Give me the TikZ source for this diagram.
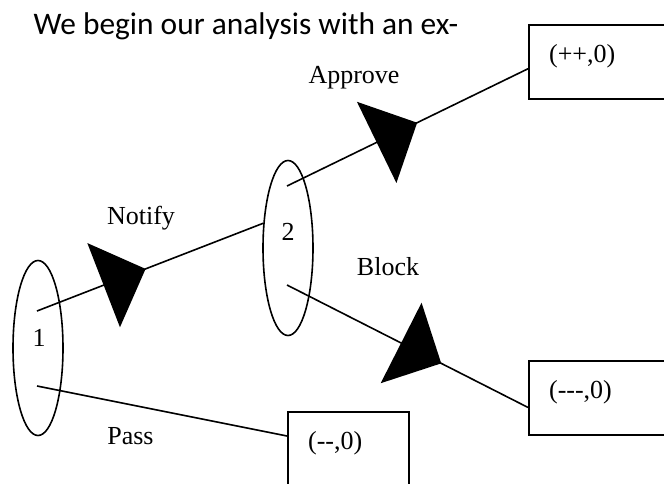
\documentclass[tikz,border=0pt]{standalone}
\usepackage{fontspec}
\setmainfont{Liberation Serif}
\newfontfamily\headfont{Carlito}
\usetikzlibrary{arrows.meta,shapes,decorations.markings,calc,positioning}
\tikzstyle{edge}  =[line width=1.6pt]
\tikzset{move/.style={edge, postaction={decorate},
                    decoration={markings, mark=at position #1 with
                    {\arrow{Triangle[length=45pt,width=90pt]}}}}}
\tikzstyle{player}=[ellipse, draw, anchor=center, line width=1.6pt,
                    minimum width=50pt, minimum height=175pt, inner sep=0pt]
\tikzset{payoff/.style={draw, line width=2.2pt, anchor=north west,
                    align=left, inner xsep=20pt, text width=#1,
                    text height=18pt, text depth=18pt, minimum height=74pt}}
\tikzstyle{lbl}   =[anchor=base, font=\fontsize{26}{30}\selectfont]

\begin{document}
\begin{tikzpicture}[x=1pt, y=-1pt, every node/.style={lbl}]
        \useasboundingbox (0,0) rectangle (664,483);
        \node[anchor=base west, font=\headfont\fontsize{31.4}{36}\selectfont]
                (head) at (30,34) {We begin our analysis with an ex-};

                \node[player] (p1) at (38,348) {};
                \node[player] (p2) at (288,248) {};
                \node (l1) at (39,346) {1};
                \node (l2) at (288,240) {2};

                % payoff boxes, dashes kept apart
                \node[payoff=110pt] (b1) at (528,24) {(++,0)};
                \node[payoff=110pt] (b2) at (528,360) {(-{}-{}-,0)};
                \node[payoff=81pt] (b3) at (287,411) {(-{}-,0)};

                \coordinate (p1a) at (37,311);
                \coordinate (p1b) at (37,386);
                \coordinate (p2a) at (287,186);
                \coordinate (p2b) at (287,285);

                \foreach \a/\b/\p in {p1a/p2.135/0.48, p2a/b1.185/0.54,
                        p2b/b2.187/0.64}{
                    \draw[move=\p] (\a) -- (\b);
                }
                \draw[edge] (p1b) -- (b3.168);

                \node (notify) at (141,224) {Notify};
                \node (approve) at (354,83) {Approve};
                \node (block) at (388,275) {Block};
                \node (pass) at (130.5,444) {Pass};
    \end{tikzpicture}
\end{document}
